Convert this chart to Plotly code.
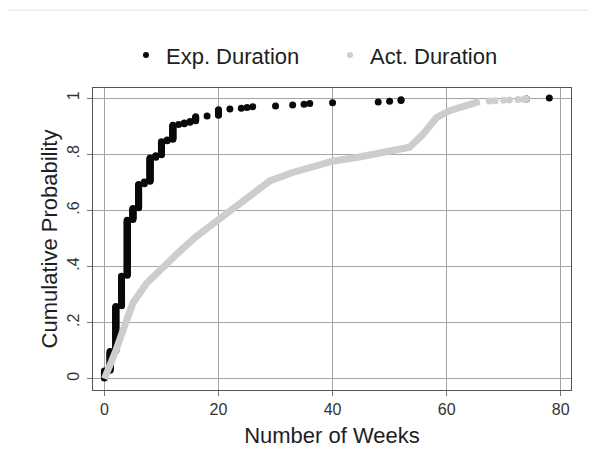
import plotly.graph_objects as go

# ---- Data ----
# Expected duration: number of observations at each week value (empirical CDF points)
exp_weeks = [0, 1, 2, 3, 4, 5, 6, 7, 8, 9, 10, 11, 12, 13, 14, 15, 16, 18, 20,
             22, 24, 25, 26, 30, 33, 35, 36, 40, 48, 50, 52, 74, 78]
exp_counts = [10, 25, 58, 39, 72, 15, 31, 3, 31, 3, 18, 2, 19, 1, 2, 2, 6, 1, 8,
              1, 1, 1, 1, 1, 1, 1, 1, 1, 1, 1, 2, 1, 1]

act_weeks = [0, 1, 1.5, 2, 3.3, 5, 7.4, 10.3, 13.2, 16.1, 19.9, 24.9, 29, 33, 36,
             40, 44.7, 48.8, 53.5, 55.8, 58.2, 60.5, 63.4, 65.8]
act_prob = [0, 0.045, 0.068, 0.10, 0.175, 0.27, 0.34, 0.40, 0.454, 0.507, 0.565,
            0.645, 0.705, 0.735, 0.752, 0.775, 0.79, 0.805, 0.825, 0.87, 0.93,
            0.955, 0.975, 0.988]
act_tail_weeks = [67.5, 68.5, 70, 71, 72.5, 73.5, 74]
act_tail_prob = [0.990, 0.991, 0.992, 0.993, 0.995, 0.996, 0.997]

x_ticks = [0, 20, 40, 60, 80]
y_ticks = [0, 0.2, 0.4, 0.6, 0.8, 1]
y_tick_labels = ["0", ".2", ".4", ".6", ".8", "1"]

# empirical CDF: each observation at rank / N
N = sum(exp_counts)
exp_x, exp_y = [], []
rank = 0
for w, c in zip(exp_weeks, exp_counts):
    for _ in range(c):
        rank += 1
        exp_x.append(w)
        exp_y.append(rank / N)

BLACK = "#0a0a0a"
GREY = "#cdcdcd"
FONT = "Liberation Sans, Arial, sans-serif"
TXT = "#1e1e1e"

fig = go.Figure()
fig.add_trace(go.Scatter(x=exp_x, y=exp_y, mode="markers",
                         marker=dict(color=BLACK, size=7), showlegend=False,
                         hoverinfo="skip"))
fig.add_trace(go.Scatter(x=act_weeks, y=act_prob, mode="lines",
                         line=dict(color=GREY, width=7), showlegend=False,
                         hoverinfo="skip"))
fig.add_trace(go.Scatter(x=act_tail_weeks, y=act_tail_prob, mode="markers",
                         marker=dict(color=GREY, size=7), showlegend=False,
                         hoverinfo="skip"))
# legend entries
fig.add_trace(go.Scatter(x=[None], y=[None], mode="markers", name="Exp. Duration",
                         marker=dict(color=BLACK, size=6)))
fig.add_trace(go.Scatter(x=[None], y=[None], mode="markers", name="Act. Duration",
                         marker=dict(color=GREY, size=6)))

axis_common = dict(showgrid=True, gridcolor="#a3a3a3", gridwidth=1.3,
                   showline=True, mirror=True, linecolor="#555555", linewidth=1.2,
                   ticks="outside", ticklen=5, tickcolor="#777777", tickwidth=1.2,
                   zeroline=False, automargin=False,
                   tickfont=dict(family=FONT, size=16, color="#333333"))

# the page shows the figure offset by the default 8px body margin
fig.update_layout(
    width=597, height=449,
    margin=dict(l=85, r=34, t=80, b=67, autoexpand=False),
    paper_bgcolor="white", plot_bgcolor="white",
    font=dict(family=FONT, color=TXT),
    legend=dict(orientation="h", x=0.069, xanchor="left", xref="paper",
                y=0.895, yanchor="middle", yref="container",
                font=dict(family=FONT, size=22, color=TXT),
                itemwidth=30, entrywidth=159, traceorder="normal"),
    xaxis=dict(range=[-2, 81.8], tickvals=x_ticks,
               title=dict(text="Number of Weeks", standoff=10,
                          font=dict(family=FONT, size=22, color=TXT)),
               **axis_common),
    yaxis=dict(range=[-0.04, 1.036], tickvals=y_ticks, ticktext=y_tick_labels,
               tickangle=-90, ticklabelstandoff=2,
               title=dict(text="Cumulative Probability", standoff=0,
                          font=dict(family=FONT, size=22, color=TXT)),
               **axis_common),
    shapes=[dict(type="line", xref="paper", yref="paper", x0=-0.178, x1=1.07,
                 y0=1.258, y1=1.258, line=dict(color="#e4e4e4", width=1))],
)

fig.write_html("out.html")
